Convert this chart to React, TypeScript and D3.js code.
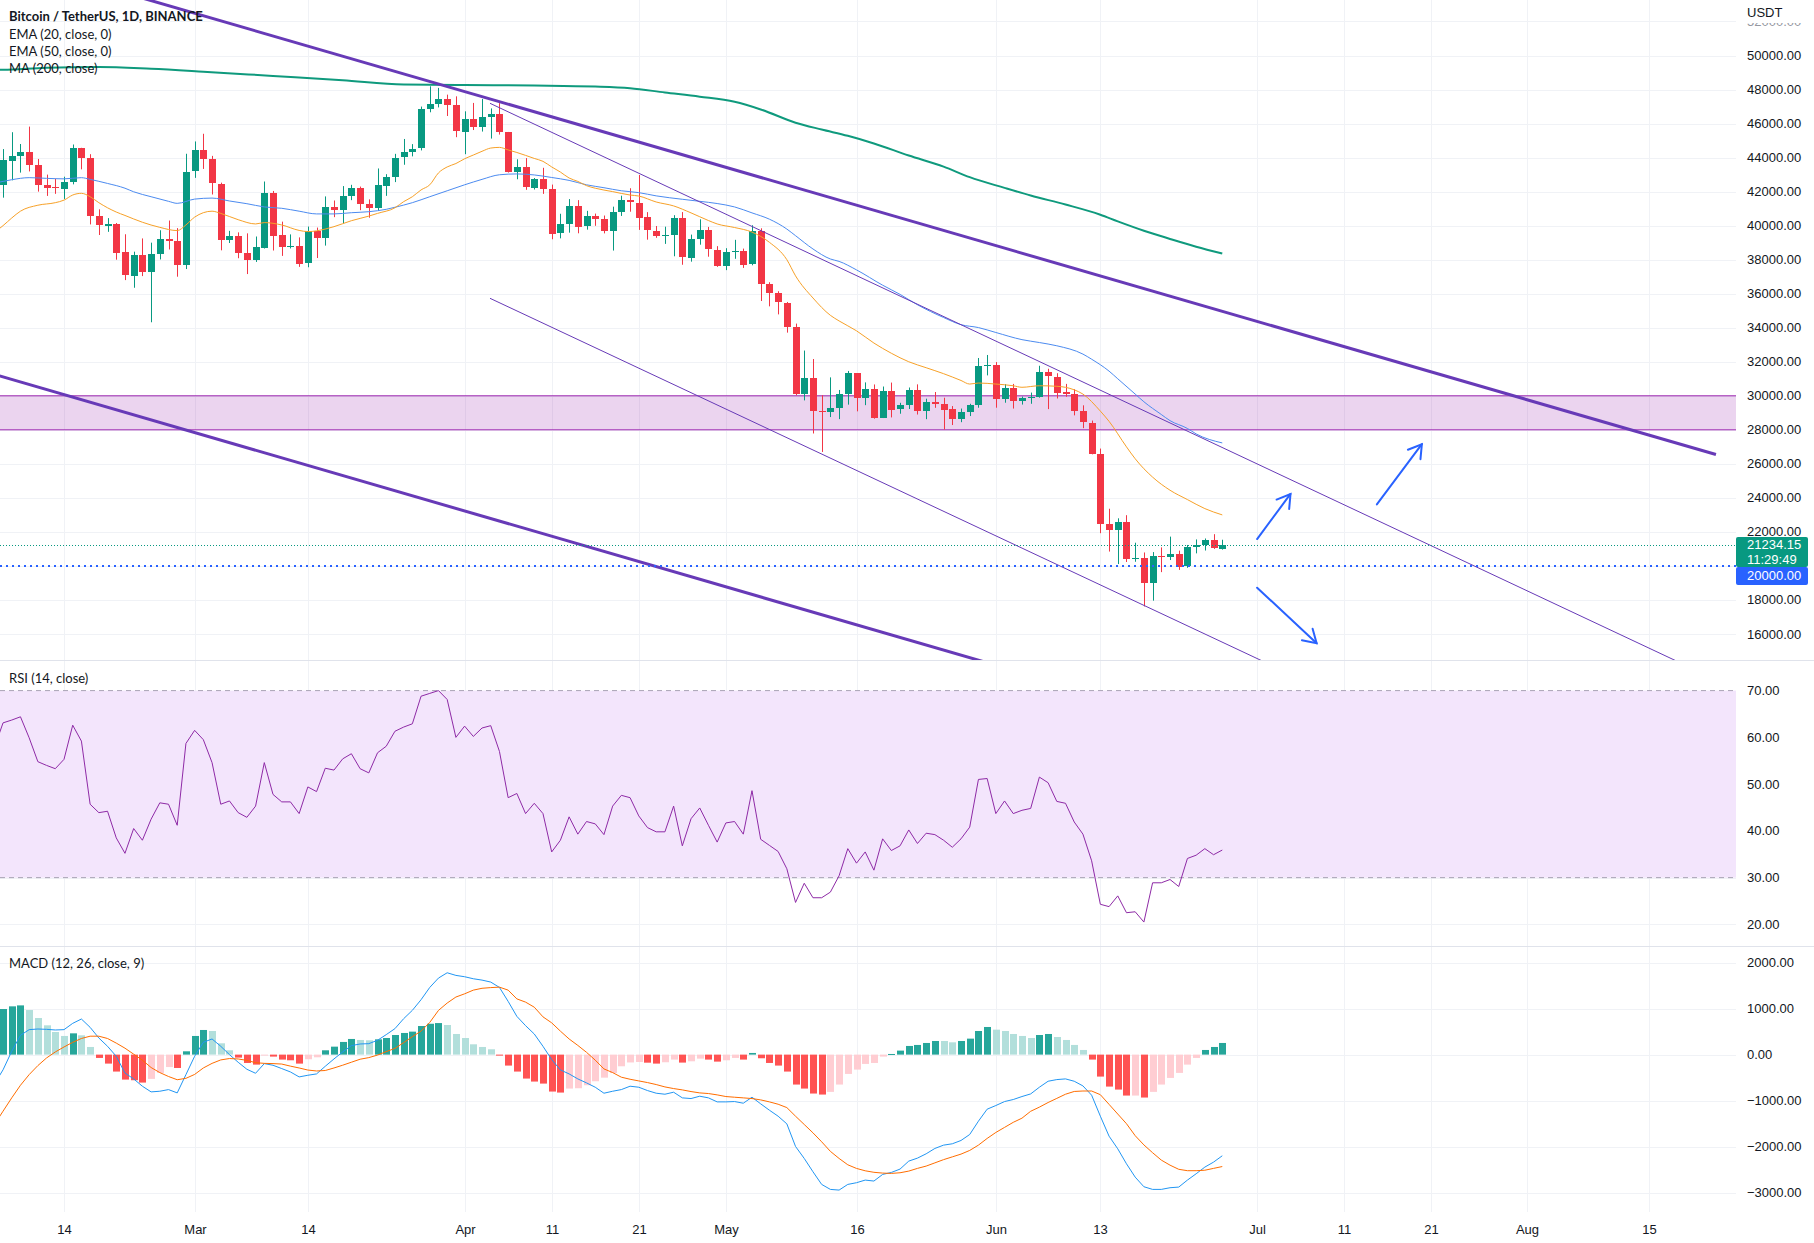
import React from "react";
import * as d3 from "d3";

const W = 1814;
const H = 1243;
const PLOT_R = 1736; // price scale starts here

// daily candles from 2022-02-07 to 2022-06-27: [open, high, low, close]
const firstDay = "2022-02-07";
const ohlc = [
  [42380, 44500, 41645, 43840], [43840, 45492, 42666, 44118], [44118, 44798, 43117, 44338],
  [44338, 45821, 43187, 43565], [43565, 43920, 42000, 42407], [42407, 43000, 41748, 42244],
  [42244, 42760, 41870, 42197], [42197, 42876, 41570, 42586], [42586, 44769, 42428, 44575],
  [44575, 44575, 43310, 43961], [43961, 44200, 40073, 40538], [40538, 40959, 39450, 40030],
  [40030, 40443, 39637, 40122], [40122, 40156, 38000, 38431], [38431, 39494, 36800, 37075],
  [37075, 38470, 36350, 38286], [38286, 39249, 37036, 37296], [37296, 39000, 34322, 38327],
  [38328, 39729, 38014, 39219], [39219, 40300, 38600, 39116], [39116, 39855, 37000, 37699],
  [37699, 44225, 37450, 43160], [43160, 44949, 42809, 44421], [44421, 45400, 43334, 43892],
  [43892, 44101, 41832, 42454], [42454, 42527, 38550, 39137], [39137, 39694, 38980, 39400],
  [39400, 39605, 38086, 38420], [38420, 39547, 37155, 37988], [37988, 39362, 37867, 38730],
  [38730, 42594, 38656, 41941], [41941, 42039, 38539, 39422], [39422, 40236, 38223, 38730],
  [38730, 39486, 38660, 38807], [38807, 39310, 37578, 37777], [37777, 39947, 37555, 39671],
  [39671, 39887, 38098, 39280], [39281, 41718, 38828, 41114], [41114, 41478, 40500, 40917],
  [40917, 42325, 40135, 41757], [41757, 42400, 41499, 42201], [42201, 42296, 40911, 41262],
  [41262, 41544, 40467, 41002], [41002, 43361, 40875, 42364], [42364, 43025, 41751, 42882],
  [42882, 44220, 42560, 43991], [43991, 45094, 43579, 44313], [44313, 44792, 44072, 44511],
  [44511, 46999, 44422, 46827], [46827, 48189, 46663, 47122], [47122, 48096, 46950, 47434],
  [47434, 47700, 46445, 47067], [47067, 47600, 45200, 45510], [45510, 46720, 44200, 46283],
  [46283, 47213, 45620, 45811], [45811, 47444, 45530, 46407], [46407, 46890, 45118, 46580],
  [46580, 47200, 45353, 45497], [45497, 45507, 43121, 43170], [43170, 43900, 42727, 43444],
  [43444, 43970, 42107, 42252], [42252, 42800, 42125, 42753], [42753, 43400, 41868, 42158],
  [42158, 42414, 39200, 39530], [39530, 40699, 39254, 40074], [40074, 41561, 39588, 41147],
  [41147, 41500, 39551, 39942], [39942, 40870, 39766, 40552], [40552, 40709, 39991, 40378],
  [40378, 40595, 39546, 39678], [39678, 41116, 38536, 40801], [40801, 41760, 40571, 41493],
  [41493, 42199, 40820, 41358], [41358, 42976, 39751, 40480], [40480, 40795, 39177, 39709],
  [39709, 39980, 39285, 39441], [39441, 39940, 38929, 39450], [39450, 40616, 38200, 40426],
  [40426, 40797, 37702, 38112], [38112, 39474, 37884, 39235], [39235, 40372, 38881, 39742],
  [39742, 39925, 38175, 38596], [38596, 38795, 37578, 37630], [37630, 38675, 37386, 38468],
  [38468, 39167, 38052, 38525], [38525, 38651, 37517, 37729], [37729, 40023, 37671, 39690],
  [39690, 39845, 35571, 36552], [36552, 36675, 35258, 36013], [36013, 36146, 34785, 35472],
  [35472, 35514, 33713, 34038], [34038, 34243, 30033, 30076], [30076, 32659, 29730, 31017],
  [31017, 32162, 27785, 29103], [29103, 30032, 26700, 29030], [29030, 31083, 28751, 29287],
  [29287, 30343, 28630, 30086], [30086, 31460, 29480, 31329], [31329, 31329, 29087, 29875],
  [29875, 30788, 29450, 30425], [30425, 30666, 28654, 28716], [28716, 30545, 28693, 30297],
  [30297, 30777, 28730, 29193], [29193, 29588, 28947, 29432], [29432, 30487, 29225, 30323],
  [30323, 30672, 28900, 29098], [29098, 29830, 28627, 29655], [29655, 30223, 29294, 29542],
  [29542, 29886, 28019, 29201], [29201, 29397, 28282, 28629], [28629, 29250, 28450, 29031],
  [29031, 29530, 28810, 29468], [29468, 32222, 29299, 31734], [31734, 32399, 31200, 31801],
  [31801, 31982, 29300, 29805], [29805, 30689, 29594, 30452], [30452, 30699, 29250, 29700],
  [29700, 29955, 29485, 29864], [29864, 30189, 29531, 29919], [29919, 31765, 29890, 31373],
  [31373, 31589, 29218, 31125], [31125, 31327, 29843, 30205], [30205, 30700, 29944, 30110],
  [30110, 30387, 28850, 29091], [29091, 29440, 28099, 28424], [28424, 28544, 26560, 26574],
  [26574, 26899, 21925, 22487], [22487, 23362, 20846, 22136], [22136, 22800, 20111, 22583],
  [22583, 22983, 20232, 20401], [20401, 21365, 20246, 20468], [20468, 20792, 17622, 18970],
  [18970, 20815, 17960, 20574], [20574, 21090, 19637, 20573], [20573, 21723, 20348, 20723],
  [20723, 20900, 19770, 19987], [19987, 21233, 19890, 21111], [21111, 21558, 20740, 21227],
  [21227, 21614, 20907, 21502], [21502, 21867, 21000, 21028], [21028, 21540, 20960, 21234],
];

// moving averages: [MM-DD, value]
const ema20 = [
  ["02-06", 39600], ["02-07", 40000], ["02-08", 40450], ["02-09", 40850], ["02-11", 41200],
  ["02-13", 41350], ["02-14", 41500], ["02-15", 41800], ["02-16", 41900], ["02-17", 41700],
  ["02-18", 41350], ["02-20", 40800], ["02-21", 40600], ["02-23", 40200], ["02-25", 39900],
  ["02-27", 39710], ["02-28", 40040], ["03-01", 40500], ["03-03", 40850], ["03-04", 40720],
  ["03-06", 40350], ["03-08", 40100], ["03-09", 40180], ["03-11", 40040], ["03-13", 39720],
  ["03-14", 39650], ["03-16", 39800], ["03-17", 39940], ["03-19", 40290], ["03-21", 40560],
  ["03-22", 40720], ["03-24", 41050], ["03-25", 41410], ["03-26", 41700], ["03-27", 42100],
  ["03-28", 42400], ["03-29", 43100], ["03-30", 43450], ["03-31", 43650], ["04-01", 43930],
  ["04-02", 44150], ["04-03", 44370], ["04-04", 44560], ["04-05", 44600], ["04-06", 44450],
  ["04-07", 44300], ["04-08", 44130], ["04-09", 43950], ["04-10", 43780], ["04-11", 43450],
  ["04-12", 43150], ["04-13", 42800], ["04-14", 42600], ["04-15", 42350], ["04-16", 42200],
  ["04-18", 42000], ["04-20", 41800], ["04-21", 41740], ["04-23", 41390], ["04-25", 41160],
  ["04-27", 40750], ["04-29", 40300], ["04-30", 40100], ["05-02", 39890], ["05-04", 39620],
  ["05-06", 39020], ["05-08", 38000], ["05-09", 37050], ["05-11", 35750], ["05-13", 34730],
  ["05-14", 34400], ["05-16", 33820], ["05-18", 33100], ["05-20", 32500], ["05-22", 32000],
  ["05-24", 31650], ["05-26", 31300], ["05-28", 30900], ["05-29", 30690], ["05-30", 30750],
  ["06-01", 30690], ["06-03", 30590], ["06-04", 30500], ["06-06", 30590], ["06-08", 30560],
  ["06-10", 30350], ["06-11", 30100], ["06-13", 29100], ["06-14", 28500], ["06-16", 27000],
  ["06-17", 26300], ["06-19", 25220], ["06-21", 24450], ["06-23", 23900], ["06-25", 23370],
  ["06-27", 23000],
];
const ema50 = [
  ["02-06", 42500], ["02-07", 42600], ["02-08", 42700], ["02-10", 42820], ["02-12", 42780],
  ["02-14", 42750], ["02-16", 42820], ["02-17", 42720], ["02-19", 42480], ["02-21", 42200],
  ["02-22", 41990], ["02-24", 41700], ["02-26", 41430], ["02-27", 41310], ["03-01", 41560],
  ["03-03", 41620], ["03-05", 41450], ["03-07", 41290], ["03-09", 41100], ["03-11", 41020],
  ["03-13", 40850], ["03-15", 40690], ["03-17", 40690], ["03-19", 40760], ["03-21", 40820],
  ["03-23", 40960], ["03-24", 41080], ["03-26", 41350], ["03-28", 41700], ["03-30", 42050],
  ["04-01", 42400], ["04-03", 42720], ["04-05", 42990], ["04-07", 43040], ["04-09", 42980],
  ["04-11", 42830], ["04-13", 42660], ["04-15", 42400], ["04-17", 42230], ["04-19", 42050],
  ["04-21", 41940], ["04-23", 41750], ["04-26", 41550], ["04-28", 41430], ["04-30", 41300],
  ["05-02", 41100], ["05-04", 40750], ["05-06", 40380], ["05-08", 39800], ["05-09", 39410],
  ["05-11", 38630], ["05-13", 38040], ["05-14", 37900], ["05-16", 37400], ["05-19", 36500],
  ["05-21", 35960], ["05-23", 35350], ["05-26", 34600], ["05-28", 34180], ["05-30", 34010],
  ["06-01", 33720], ["06-04", 33300], ["06-06", 33130], ["06-08", 32940], ["06-11", 32450],
  ["06-12", 32150], ["06-14", 31450], ["06-15", 31000], ["06-17", 30100], ["06-18", 29650],
  ["06-20", 28900], ["06-21", 28540], ["06-23", 28080], ["06-24", 27760], ["06-27", 27230],
];
const ma200 = [
  ["02-06", 49150], ["02-07", 49160], ["02-12", 49280], ["02-18", 49330], ["02-24", 49220],
  ["03-02", 49050], ["03-10", 48800], ["03-18", 48550], ["03-25", 48300], ["04-01", 48270],
  ["04-09", 48235], ["04-16", 48176], ["04-20", 48080], ["04-24", 47825], ["04-28", 47580],
  ["05-02", 47280], ["05-05", 46830], ["05-09", 46050], ["05-12", 45650], ["05-15", 45280],
  ["05-18", 44830], ["05-22", 44120], ["05-26", 43470], ["05-29", 42850], ["06-02", 42220],
  ["06-05", 41770], ["06-09", 41240], ["06-13", 40640], ["06-15", 40250], ["06-18", 39700],
  ["06-21", 39220], ["06-24", 38760], ["06-27", 38360],
];

// RSI, MACD and signal, daily from 2022-02-06
const oscFirstDay = "2022-02-06";
const rsi = [
  57.8,
  63.1, 63.7, 64.4, 59.9, 54.8, 54.0, 53.3, 55.3, 62.6, 59.2,
  45.7, 43.9, 44.2, 38.5, 35.2, 40.5, 38.0, 42.5, 46.0, 45.7,
  41.2, 58.7, 61.5, 59.5, 54.6, 45.7, 46.4, 43.9, 42.9, 45.3,
  54.6, 47.8, 46.2, 46.2, 43.7, 49.4, 48.4, 53.4, 53.0, 55.4,
  56.5, 53.3, 52.4, 56.7, 58.1, 61.3, 62.2, 62.9, 68.8, 69.4,
  70.0, 68.1, 60.0, 62.4, 60.2, 62.0, 62.5, 57.0, 47.1, 48.0,
  43.7, 45.9, 43.7, 35.5, 38.0, 43.0, 39.3, 42.0, 41.5, 39.2,
  45.3, 47.6, 47.1, 43.2, 40.7, 39.8, 39.8, 45.3, 36.8, 42.6,
  44.9, 41.2, 37.6, 41.7, 42.0, 39.3, 48.6, 38.2, 36.9, 35.6,
  31.9, 24.7, 28.8, 25.7, 25.7, 26.9, 30.4, 36.2, 33.1, 35.5,
  31.6, 38.3, 35.8, 36.8, 40.2, 37.3, 39.5, 39.2, 38.0, 36.5,
  38.3, 40.8, 51.0, 51.2, 43.7, 46.4, 43.7, 44.4, 44.8, 51.5,
  50.3, 46.3, 45.9, 41.9, 39.3, 33.6, 24.3, 23.8, 26.1, 22.5,
  22.7, 20.5, 28.9, 28.9, 29.6, 28.1, 34.1, 34.8, 36.2, 34.9,
  35.9,
];
const macd = [
  -640,
  -330, 72, 419, 542, 556, 549, 535, 542, 679, 773,
  592, 361, 181, -36, -400, -527, -686, -809, -795, -759,
  -831, -434, -36, 267, 340, 181, 0, -166, -318, -405,
  -195, -231, -303, -376, -484, -448, -419, -253, -94, 58,
  195, 231, 238, 311, 434, 564, 780, 961, 1192, 1459,
  1662, 1777, 1720, 1691, 1647, 1618, 1575, 1459, 1156, 831,
  629, 448, 181, -108, -332, -419, -527, -614, -708, -838,
  -795, -759, -686, -708, -780, -838, -860, -816, -939, -954,
  -903, -939, -1026, -1026, -1019, -1055, -925, -1069, -1207, -1337,
  -1503, -1994, -2254, -2543, -2818, -2926, -2941, -2818, -2781, -2724,
  -2745, -2601, -2558, -2485, -2312, -2247, -2153, -2037, -1965, -1936,
  -1864, -1734, -1445, -1185, -1105, -1019, -975, -910, -853, -708,
  -578, -542, -527, -578, -679, -881, -1337, -1770, -2045, -2370,
  -2659, -2868, -2926, -2926, -2890, -2876, -2724, -2587, -2442, -2334,
  -2196,
];
const signal = [
  -1520,
  -1228, -939, -665, -434, -238, -72, 58, 166, 267, 350,
  400, 400, 350, 250, 140, 10, -120, -280, -390, -475,
  -545, -515, -430, -290, -190, -115, -85, -95, -125, -175,
  -190, -195, -205, -250, -290, -335, -355, -345, -290, -230,
  -165, -100, -65, -10, 65, 135, 260, 390, 510, 700,
  960, 1120, 1250, 1320, 1400, 1440, 1455, 1465, 1400, 1210,
  1140, 1030, 820, 690, 510, 340, 200, 50, -120, -310,
  -390, -490, -535, -571, -607, -650, -701, -737, -766, -802,
  -831, -845, -874, -910, -925, -939, -954, -983, -1026, -1077,
  -1150, -1337, -1517, -1698, -1893, -2100, -2254, -2392, -2471, -2522,
  -2555, -2572, -2579, -2565, -2529, -2470, -2420, -2350, -2280, -2220,
  -2160, -2080, -1965, -1820, -1690, -1580, -1470, -1380, -1230, -1140,
  -1040, -950, -860, -800, -790, -790, -870, -1080, -1290, -1500,
  -1760, -1960, -2130, -2290, -2400, -2490, -2520, -2520, -2510, -2470,
  -2430,
];
// MACD histogram, daily from 2022-02-07
const hist = [
  990, 1048, 1069, 968, 795, 636, 491, 405, 462, 419,
  166, -72, -195, -368, -542, -556, -607, -527, -397, -270,
  -290, 72, 405, 535, 513, 246, 94, -65, -181, -217,
  -14, -43, -108, -123, -195, -101, -58, 94, 173, 275,
  340, 318, 311, 332, 361, 426, 470, 499, 621, 670,
  685, 643, 448, 361, 224, 166, 116, -22, -238, -368,
  -520, -585, -629, -802, -824, -737, -730, -665, -578, -500,
  -400, -253, -170, -160, -175, -195, -166, -108, -173, -145,
  -87, -108, -152, -123, -72, -108, 36, -79, -181, -238,
  -368, -650, -737, -845, -867, -809, -650, -419, -325, -202,
  -181, -43, 14, 87, 188, 210, 253, 296, 296, 267,
  296, 347, 513, 600, 542, 513, 448, 405, 361, 426,
  448, 383, 318, 210, 101, -108, -477, -694, -759, -889,
  -889, -932, -809, -650, -506, -397, -217, -72, 101, 166,
  253,
];

// drawings: anchors in [time, price]
const trendLines = [
  { from: ["2022-02-07", 55750], to: ["2022-08-22T16:30", 26550], width: 3, left: true, right: false },
  { from: ["2022-02-07", 31110], to: ["2022-06-27", 10300], width: 3, left: true, right: true },
  { from: ["2022-04-03T22:00", 47190], to: ["2022-06-27", 26960], width: 1, left: false, right: true },
  { from: ["2022-04-03T22:00", 35730], to: ["2022-06-27", 15520], width: 1, left: false, right: true },
];
const zone = { top: 30000, bottom: 28000 };
const arrows = [
  { from: ["2022-07-01T00:00", 21580], to: ["2022-07-04T20:00", 24230] },
  { from: ["2022-07-14T18:00", 23620], to: ["2022-07-19T22:00", 27155] },
  { from: ["2022-07-01T00:00", 18720], to: ["2022-07-07T20:00", 15460] },
];
const lastPrice = 21234.15;
const countdown = "11:29:49";
const alertPrice = 20000;

const timeTicks = [
  ["2022-02-14", "14"], ["2022-03-01", "Mar"], ["2022-03-14", "14"], ["2022-04-01", "Apr"],
  ["2022-04-11", "11"], ["2022-04-21", "21"], ["2022-05-01", "May"], ["2022-05-16", "16"],
  ["2022-06-01", "Jun"], ["2022-06-13", "13"], ["2022-07-01", "Jul"], ["2022-07-11", "11"],
  ["2022-07-21", "21"], ["2022-08-01", "Aug"], ["2022-08-15", "15"],
];
const priceTicks = d3.range(16000, 52001, 2000);
const rsiTicks = [20, 30, 40, 50, 60, 70];
const macdTicks = [2000, 1000, 0, -1000, -2000, -3000];

const legendMain = ["EMA (20, close, 0)", "EMA (50, close, 0)", "MA (200, close)"];

// ---------------------------------------------------------------

const parse = (s: string) =>
  new Date(s.length === 5 ? `2022-${s}T00:00:00Z` : s.includes("T") ? `${s}:00Z` : `${s}T00:00:00Z`);
const dayAt = (start: string, i: number) => d3.utcDay.offset(parse(start), i);

const x = d3.scaleUtc().domain([parse("2022-02-14"), parse("2022-08-15")]).range([64, 1649]);
const yP = d3.scaleLinear().domain([16000, 50000]).range([634, 55.5]);
const yR = d3.scaleLinear().domain([20, 70]).range([924.4, 690.6]);
const yM = d3.scaleLinear().domain([-3000, 2000]).range([1192.8, 962.5]);

const MAIN = { top: 0, bottom: 660 };
const RSI = { top: 661, bottom: 946 };
const MACD = { top: 947, bottom: 1212 };

const UP = "#089981";
const DOWN = "#f23645";
const GRID = "#f0f2f6";
const TXT = "#131722";
const AXIS_FONT = "'Liberation Sans', Arial, sans-serif";
const LEG_FONT = "Lato, 'Open Sans', sans-serif";

const fmt = (v: number) => (v < 0 ? "\u2212" : "") + d3.format(".2f")(Math.abs(v));

function pt(p: (string | number)[]) {
  return [x(parse(p[0] as string)), yP(p[1] as number)];
}

function App() {
  const smooth = (ys: (v: number) => number) =>
    d3
      .line<[Date, number]>()
      .x((d) => x(d[0]))
      .y((d) => ys(d[1]))
      .curve(d3.curveMonotoneX);
  const straight = (ys: (v: number) => number) =>
    d3
      .line<[Date, number]>()
      .x((d) => x(d[0]))
      .y((d) => ys(d[1]));

  const toSeries = (arr: (string | number)[][]) =>
    arr.map((d) => [parse(d[0] as string), d[1] as number] as [Date, number]);
  const daily = (start: string, arr: number[]) =>
    arr.map((v, i) => [dayAt(start, i), v] as [Date, number]);

  const candles = ohlc.map((c, i) => {
    const xc = Math.round(x(dayAt(firstDay, i)));
    const up = c[3] >= c[0];
    const yo = yP(c[0]);
    const yc = yP(c[3]);
    const top = Math.round(Math.min(yo, yc));
    const h = Math.max(1, Math.round(Math.abs(yo - yc)));
    const col = up ? UP : DOWN;
    return (
      <g key={i} fill={col}>
        <rect x={xc} y={yP(c[1])} width={1} height={yP(c[2]) - yP(c[1])} />
        <rect x={xc - 3} y={top} width={7} height={h} />
      </g>
    );
  });

  const bars = hist.map((v, i) => {
    const prev = i > 0 ? hist[i - 1] : -Infinity;
    let col;
    if (v >= 0) col = v > prev ? "#26a69a" : "#b2dfdb";
    else col = v < prev ? "#ff5252" : "#ffcdd2";
    const xc = Math.round(x(dayAt(firstDay, i)));
    const y0 = yM(0);
    const y1 = yM(v);
    return (
      <rect key={i} x={xc - 3} y={Math.min(y0, y1)} width={7} height={Math.max(1, Math.abs(y1 - y0))} fill={col} />
    );
  });

  const trendPaths = trendLines.map((t, i) => {
    const [x1, y1] = pt(t.from);
    const [x2, y2] = pt(t.to);
    const k = (y2 - y1) / (x2 - x1);
    const xa = t.left ? -50 : x1;
    const xb = t.right ? W + 50 : x2;
    return (
      <line
        key={i}
        x1={xa}
        y1={y1 + k * (xa - x1)}
        x2={xb}
        y2={y1 + k * (xb - x1)}
        stroke="#673ab7"
        strokeWidth={t.width}
      />
    );
  });

  const arrowPaths = arrows.map((a, i) => {
    const [x1, y1] = pt(a.from);
    const [x2, y2] = pt(a.to);
    const ang = Math.atan2(y2 - y1, x2 - x1);
    const L = 15;
    const spread = 0.55;
    const w1 = [x2 - L * Math.cos(ang - spread), y2 - L * Math.sin(ang - spread)];
    const w2 = [x2 - L * Math.cos(ang + spread), y2 - L * Math.sin(ang + spread)];
    return (
      <g key={i} stroke="#2962ff" strokeWidth={2} fill="none" strokeLinecap="round">
        <line x1={x1} y1={y1} x2={x2} y2={y2} />
        <path d={`M${w1[0]},${w1[1]}L${x2},${y2}L${w2[0]},${w2[1]}`} />
      </g>
    );
  });

  const tickXs = timeTicks.map((t) => Math.round(x(parse(t[0]))) + 0.5);
  // tick labels hidden behind the price/alert boxes are not drawn
  const hiddenTicks = [alertPrice];

  return (
    <svg
      width={W}
      height={H}
      style={{ position: "absolute", left: 0, top: 0, background: "#fff" }}
      fontFamily={AXIS_FONT}
    >
      <defs>
        <clipPath id="clipMain">
          <rect x={0} y={MAIN.top} width={PLOT_R} height={MAIN.bottom - MAIN.top} />
        </clipPath>
        <clipPath id="clipRsi">
          <rect x={0} y={RSI.top} width={PLOT_R} height={RSI.bottom - RSI.top} />
        </clipPath>
        <clipPath id="clipMacd">
          <rect x={0} y={MACD.top} width={PLOT_R} height={MACD.bottom - MACD.top} />
        </clipPath>
        <clipPath id="clipScaleTop">
          <rect x={PLOT_R} y={23} width={W - PLOT_R} height={10} />
        </clipPath>
      </defs>
      <rect x={0} y={0} width={W} height={H} fill="#fff" />

      {/* grid */}
      <g stroke={GRID} strokeWidth={1}>
        {tickXs.map((tx, i) => (
          <line key={"v" + i} x1={tx} x2={tx} y1={0} y2={MACD.bottom} />
        ))}
        {priceTicks.map((p) => (
          <line key={"p" + p} x1={0} x2={PLOT_R} y1={Math.round(yP(p)) + 0.5} y2={Math.round(yP(p)) + 0.5} />
        ))}
        {rsiTicks.map((p) => (
          <line key={"r" + p} x1={0} x2={PLOT_R} y1={Math.round(yR(p)) + 0.5} y2={Math.round(yR(p)) + 0.5} />
        ))}
        {macdTicks.map((p) => (
          <line key={"m" + p} x1={0} x2={PLOT_R} y1={Math.round(yM(p)) + 0.5} y2={Math.round(yM(p)) + 0.5} />
        ))}
      </g>

      {/* main pane */}
      <g clipPath="url(#clipMain)">
        <rect
          x={0}
          y={yP(zone.top)}
          width={PLOT_R}
          height={yP(zone.bottom) - yP(zone.top)}
          fill="#9c27b0"
          fillOpacity={0.2}
        />
        <line x1={0} x2={PLOT_R} y1={yP(zone.top)} y2={yP(zone.top)} stroke="#9c27b0" strokeWidth={1} />
        <line x1={0} x2={PLOT_R} y1={yP(zone.bottom)} y2={yP(zone.bottom)} stroke="#9c27b0" strokeWidth={1} />
        {candles}
        <path d={smooth(yP)(toSeries(ma200)) || ""} fill="none" stroke="#0f9a7d" strokeWidth={2} />
        <path d={smooth(yP)(toSeries(ema50)) || ""} fill="none" stroke="#4c8bf0" strokeWidth={1} />
        <path d={smooth(yP)(toSeries(ema20)) || ""} fill="none" stroke="#f7a128" strokeWidth={1} />
        {trendPaths}
        <line
          x1={0}
          x2={PLOT_R}
          y1={Math.round(yP(lastPrice)) + 0.5}
          y2={Math.round(yP(lastPrice)) + 0.5}
          stroke={UP}
          strokeWidth={1}
          strokeDasharray="1,2"
        />
        <line
          x1={0}
          x2={PLOT_R}
          y1={Math.round(yP(alertPrice))}
          y2={Math.round(yP(alertPrice))}
          stroke="#2962ff"
          strokeWidth={2}
          strokeDasharray="2,4"
        />
        {arrowPaths}
      </g>

      {/* RSI pane */}
      <g clipPath="url(#clipRsi)">
        <rect x={0} y={yR(70)} width={PLOT_R} height={yR(30) - yR(70)} fill="#f3e5fc" />
        <line x1={0} x2={PLOT_R} y1={yR(70)} y2={yR(70)} stroke="#a8a3b4" strokeDasharray="5,4" />
        <line x1={0} x2={PLOT_R} y1={yR(30)} y2={yR(30)} stroke="#a8a3b4" strokeDasharray="5,4" />
        <path d={straight(yR)(daily(oscFirstDay, rsi)) || ""} fill="none" stroke="#8e2aa6" strokeWidth={1} />
      </g>

      {/* MACD pane */}
      <g clipPath="url(#clipMacd)">
        {bars}
        <path d={straight(yM)(daily(oscFirstDay, macd)) || ""} fill="none" stroke="#2196f3" strokeWidth={1} />
        <path d={straight(yM)(daily(oscFirstDay, signal)) || ""} fill="none" stroke="#ff6d00" strokeWidth={1} />
      </g>

      {/* pane separators */}
      <line x1={0} x2={W} y1={660.5} y2={660.5} stroke="#e0e3eb" />
      <line x1={0} x2={W} y1={946.5} y2={946.5} stroke="#e0e3eb" />

      {/* price scale labels */}
      <g fontSize={13} fill={TXT} dominantBaseline="central">
        {priceTicks
          .filter((p) => p < 52000 && !hiddenTicks.includes(p))
          .map((p) => (
            <text key={p} x={1747} y={yP(p)}>
              {fmt(p)}
            </text>
          ))}
        {/* the top tick is mostly hidden under the currency header */}
        <text x={1747} y={yP(52000)} clipPath="url(#clipScaleTop)" fill="#9598a1">
          {fmt(52000)}
        </text>
        {rsiTicks.map((p) => (
          <text key={p} x={1747} y={yR(p)}>
            {fmt(p)}
          </text>
        ))}
        {macdTicks.map((p) => (
          <text key={p} x={1747} y={yM(p)}>
            {fmt(p)}
          </text>
        ))}
      </g>
      <text x={1747} y={12} fontSize={13} fill={TXT} dominantBaseline="central">
        USDT
      </text>

      {/* last price & alert labels */}
      <rect x={PLOT_R} y={yP(lastPrice) - 8} width={72} height={30} rx={2} fill={UP} />
      <text x={1747} y={yP(lastPrice)} fontSize={13} fill="#fff" dominantBaseline="central">
        {d3.format(".2f")(lastPrice)}
      </text>
      <text x={1747} y={yP(lastPrice) + 14.5} fontSize={13} fill="#fff" dominantBaseline="central">
        {countdown}
      </text>
      <rect x={PLOT_R} y={yP(lastPrice) + 22} width={72} height={18} rx={2} fill="#2962ff" />
      <text x={1747} y={yP(lastPrice) + 31} fontSize={13} fill="#fff" dominantBaseline="central">
        {fmt(alertPrice)}
      </text>

      {/* time axis */}
      <g fontSize={13} fill={TXT} textAnchor="middle" dominantBaseline="central">
        {timeTicks.map((t, i) => (
          <text key={i} x={tickXs[i]} y={1229}>
            {t[1]}
          </text>
        ))}
      </g>

      {/* legends */}
      <g fontFamily={LEG_FONT} fontSize={13} fill={TXT} dominantBaseline="central">
        <text x={9} y={16} fontWeight={700}>
          Bitcoin / TetherUS, 1D, BINANCE
        </text>
        {legendMain.map((s, i) => (
          <text key={s} x={9} y={33.5 + i * 17.2}>
            {s}
          </text>
        ))}
        <text x={9} y={678}>
          RSI (14, close)
        </text>
        <text x={9} y={962.5}>
          MACD (12, 26, close, 9)
        </text>
      </g>
    </svg>
  );
}

export default App;
